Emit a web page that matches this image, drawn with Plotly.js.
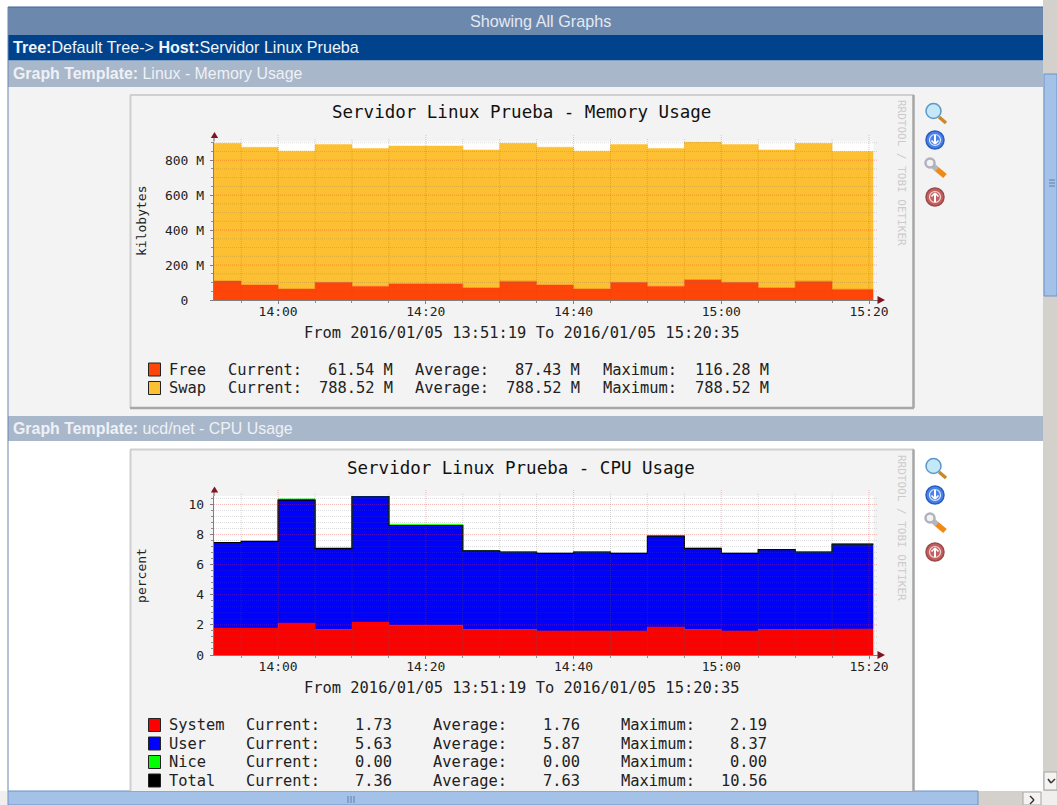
<!DOCTYPE html>
<html>
<head>
<meta charset="utf-8">
<script src="https://cdn.plot.ly/plotly-3.0.1.min.js"></script>
<style>html,body{margin:0;padding:0;background:#fff;overflow:hidden}#g{width:1057px;height:805px}</style>
</head>
<body>
<div id="g"></div>
<script>
// ---- data ----
const stepStarts = ['13:51:19','13:55:00','14:00:00','14:05:00','14:10:00','14:15:00','14:20:00','14:25:00','14:30:00','14:35:00','14:40:00','14:45:00','14:50:00','14:55:00','15:00:00','15:05:00','15:10:00','15:15:00'];
const endTime = '15:20:35';
const memFree = [108.6,85.7,62.9,101,78,93,93,70,108,86,63,101,78,116.28,101,70,108,61.54];
const memSwap = [788.52,788.52,788.52,788.52,788.52,788.52,788.52,788.52,788.52,788.52,788.52,788.52,788.52,788.52,788.52,788.52,788.52,788.52];
const cpuSystem = [1.79,1.79,2.12,1.70,2.19,1.97,1.97,1.70,1.70,1.60,1.60,1.60,1.86,1.70,1.60,1.70,1.70,1.73];
const cpuUser = [5.67,5.75,8.17,5.36,8.37,6.63,6.63,5.22,5.14,5.15,5.24,5.15,6.04,5.38,5.15,5.30,5.14,5.63];
const cpuNice = [0,0,0.08,0.07,0,0.09,0.09,0,0,0,0,0,0,0,0,0,0,0];
const cpuTotal = [7.46,7.54,10.29,7.06,10.56,8.60,8.60,6.92,6.84,6.75,6.84,6.75,7.90,7.08,6.75,7.00,6.84,7.36];
const xMajor = ['14:00:00','14:20:00','14:40:00','15:00:00','15:20:00'];
const xMinor = ['13:55:00','14:05:00','14:10:00','14:15:00','14:25:00','14:30:00','14:35:00','14:45:00','14:50:00','14:55:00','15:05:00','15:10:00','15:15:00'];
const xLabels = ['14:00','14:20','14:40','15:00','15:20'];
const memMajor = [0,200,400,600,800];
const memMinor = [50,100,150,250,300,350,450,500,550,650,700,750,850,900];
const memLabels = ['0\u00a0\u00a0','200 M','400 M','600 M','800 M'];
const cpuMajor = [0,2,4,6,8,10];
const cpuMinor = [0.4,0.8,1.2,1.6,2.4,2.8,3.2,3.6,4.4,4.8,5.2,5.6,6.4,6.8,7.2,7.6,8.4,8.8,9.2,9.6,10.4];
const cpuLabels = ['0','2','4','6','8','10'];
const memLegend = [['Free','61.54 M','87.43 M','116.28 M','#ff4507'],['Swap','788.52 M','788.52 M','788.52 M','#fec033']];
const cpuLegend = [['System','1.73','1.76','2.19','#ff0000'],['User','5.63','5.87','8.37','#0000ff'],['Nice','0.00','0.00','0.00','#00ff00'],['Total','7.36','7.63','10.56','#000000']];
const dateRange = 'From 2016/01/05 13:51:19 To 2016/01/05 15:20:35';

// ---- helpers ----
const W = 1057, H = 805, DAY = '2016-01-05 ';
const px = v => v / W, py = v => 1 - v / H;
const T = t => DAY + t;
const xs = stepStarts.concat(endTime).map(T);
const ext = a => a.concat(a[a.length - 1]);
const MONO = 'DejaVu Sans Mono', SANS = 'Liberation Sans';
const shapes = [], annotations = [];
const rect = (x0, y0, x1, y1, fill, layer, lineC, lw) => shapes.push({type:'rect', xref:'paper', yref:'paper', x0:px(x0), x1:px(x1), y0:py(y0), y1:py(y1), fillcolor:fill, line:{color:lineC||fill, width:lw===undefined?0:lw}, layer:layer||'below'});
const seg = (x0, y0, x1, y1, c, w, layer) => shapes.push({type:'line', xref:'paper', yref:'paper', x0:px(x0), x1:px(x1), y0:py(y0), y1:py(y1), line:{color:c, width:w}, layer:layer||'below'});
const poly = (pts, fill, layer) => shapes.push({type:'path', xref:'paper', yref:'paper', path:'M'+pts.map(p => px(p[0])+','+py(p[1])).join('L')+'Z', fillcolor:fill, line:{width:0}, layer:layer||'above'});
const circ = (cx, cy, r, fill, lc, lw) => shapes.push({type:'circle', xref:'paper', yref:'paper', x0:px(cx-r), x1:px(cx+r), y0:py(cy-r), y1:py(cy+r), fillcolor:fill, line:{color:lc, width:lw}, layer:'below'});
const text = (s, x, y, o) => annotations.push(Object.assign({text:s, x:px(x), y:py(y), xref:'paper', yref:'paper', showarrow:false, xanchor:'left', yanchor:'middle', borderpad:0, font:{family:MONO, size:15.4, color:'#222'}}, o||{}));

// ---- page chrome ----
rect(8, 87, 1043, 416, '#f3f3f3');
rect(8, 442, 1043, 791, '#ffffff');
rect(8, 7, 1043, 35, '#6c88ad');
rect(8, 35, 1043, 60.5, '#00438c');
rect(8, 61, 1043, 87, '#a9b7cb');
rect(8, 416, 1043, 441, '#a9b7cb');
seg(8, 7, 1043, 7, '#3f6496', 1);
seg(8, 7, 8, 791, '#6a86ad', 1);
text('Showing All Graphs', 540.5, 21, {xanchor:'center', font:{family:SANS, size:16.2, color:'#e4e9f1'}});
text('<b>Tree:</b>Default Tree-> <b>Host:</b>Servidor Linux Prueba', 12, 47.5, {font:{family:SANS, size:16.1, color:'#f0f3f8'}});
text('<b>Graph Template:</b> Linux - Memory Usage', 12, 73.5, {font:{family:SANS, size:15.9, color:'#eef1f6'}});
text('<b>Graph Template:</b> ucd/net - CPU Usage', 12, 428.5, {font:{family:SANS, size:15.9, color:'#eef1f6'}});

// scrollbars
rect(1043, 0, 1057, 791, '#d4d1cd');
rect(1044, 74, 1057, 296, '#a4c1e8', 'below', '#6f93c4', 1);
[180, 183, 186].forEach(y => seg(1049, y, 1055, y, '#5f7fae', 1));
rect(1044, 772, 1057, 790, '#f4f3f1', 'below', '#a8a6a2', 1);
seg(1048, 779, 1051, 783, '#333', 1.5); seg(1051, 783, 1055, 779, '#333', 1.5);
rect(0, 791, 1057, 805, '#f0efed');
rect(8, 791, 1023, 805, '#d4d1cd');
rect(8, 791, 978, 805, '#a4c1e8', 'below', '#6f93c4', 1);
[348, 351, 354].forEach(x => seg(x, 796, x, 803, '#5f7fae', 1));
rect(1023, 792, 1041, 805, '#f4f3f1', 'below', '#a8a6a2', 1);
seg(1030, 796, 1034, 800, '#333', 1.5); seg(1034, 800, 1030, 804, '#333', 1.5);

// graph panel
function panel(top, bottom) {
  rect(130, top, 914, bottom, '#f3f3f3');
  seg(130, top, 914, top, '#cfcfcf', 2);
  seg(130.5, top, 130.5, bottom, '#cfcfcf', 2);
  seg(913.5, top, 913.5, bottom, '#a6a6a6', 2.5);
  if (bottom < 791) seg(130, bottom, 914, bottom, '#a6a6a6', 2.5);
}
panel(95, 408);
panel(449.5, 791);

// sidebar icons
function icons(dy) {
  seg(939, 117+dy, 946, 123+dy, '#c8892c', 3.5);
  circ(933.5, 111+dy, 7.5, '#c4e8f8', '#5a98c8', 1.5);
  circ(935, 140+dy, 9, '#4b82ea', '#2b5cc0', 1.5);
  circ(935, 140+dy, 5.5, 'rgba(0,0,0,0)', '#dbe8ff', 1.2);
  seg(935, 135+dy, 935, 144+dy, '#ffffff', 2); seg(931.5, 140.5+dy, 935, 144+dy, '#ffffff', 1.6); seg(938.5, 140.5+dy, 935, 144+dy, '#ffffff', 1.6);
  seg(936, 168.5+dy, 945, 176+dy, '#f08a12', 5.5);
  seg(929, 162+dy, 937, 169.5+dy, '#b4b7c2', 5.5);
  circ(930, 163+dy, 4.5, '#f3f3f3', '#b0b3be', 2.5);
  circ(935, 197+dy, 9, '#c4605f', '#9a4a4a', 1.5);
  circ(935, 197+dy, 5.5, 'rgba(0,0,0,0)', '#f3d9d9', 1.2);
  seg(935, 193+dy, 935, 202+dy, '#ffffff', 2); seg(931.5, 196.5+dy, 935, 193+dy, '#ffffff', 1.6); seg(938.5, 196.5+dy, 935, 193+dy, '#ffffff', 1.6);
}
icons(0);
icons(355);

// ---- chart furniture drawn on the axes ----
const LEFT = 214, RIGHT = 878;
function furniture(xr, yr, majorY, minorY, top, bottom, title, titleY, fromY) {
  const xd = xr === 'x' ? 'x domain' : 'x2 domain', yd = yr === 'y' ? 'y domain' : 'y2 domain';
  shapes.push({type:'rect', xref:xr, yref:yd, x0:T(stepStarts[0]), x1:T(endTime), y0:0, y1:1, fillcolor:'#ffffff', line:{width:0}, layer:'below'});
  const gridV = (vals, c, over) => vals.forEach(t => shapes.push({type:'line', xref:xr, yref:yd, x0:T(t), x1:T(t), y0:0, y1:over, line:{color:c, width:1, dash:'1px,1px'}, layer:'above'}));
  gridV(xMinor, 'rgba(95,95,95,0.26)', 1.02);
  gridV(xMajor, 'rgba(240,40,40,0.32)', 1.04);
  const gridH = (vals, c) => vals.forEach(v => shapes.push({type:'line', xref:xd, yref:yr, x0:0, x1:1, y0:v, y1:v, line:{color:c, width:1, dash:'1px,1px'}, layer:'above'}));
  gridH(minorY, 'rgba(95,95,95,0.22)');
  gridH(majorY.slice(1), 'rgba(240,40,40,0.34)');
  // axis arrows
  seg(214, top, 214, top-5, '#808080', 1.3, 'above');
  poly([[214.5, top-9.5], [210.8, top-3.5], [218.2, top-3.5]], '#7f1420');
  poly([[885, bottom], [877.5, bottom-4], [877.5, bottom+4]], '#7f1420');
  text(title, 521, titleY, {xanchor:'center', font:{family:MONO, size:17.5, color:'#111'}});
  text(dateRange, 521.5, fromY, {xanchor:'center'});
  text('RRDTOOL / TOBI OETIKER', 901.5, titleY+60, {xanchor:'center', textangle:90, font:{family:MONO, size:11, color:'#cbcbcb'}});
}
furniture('x','y',memMajor,memMinor,141.5,300,'Servidor Linux Prueba - Memory Usage',112.5,332.5);
furniture('x2','y2',cpuMajor,cpuMinor,496,655,'Servidor Linux Prueba - CPU Usage',467.5,687.5);

// legends
function legendRow(r, y, cols, rv) {
  rect(148.5, y-6.5, 160.5, y+6.5, r[4], 'below', '#222', 1);
  text(r[0], 167.5, y);
  text('Current:', cols[0], y); text(r[1], rv[0], y, {xanchor:'right'});
  text('Average:', cols[1], y); text(r[2], rv[1], y, {xanchor:'right'});
  text('Maximum:', cols[2], y); text(r[3], rv[2], y, {xanchor:'right'});
}
[369.5, 388].forEach((y,i) => legendRow(memLegend[i], y, [226.5,413.5,601.5], [393.5,581,769.5]));
[725, 743.5, 762, 780.5].forEach((y,i) => legendRow(cpuLegend[i], y, [244.5,432.5,619.5], [393,580.5,768]));

// ---- traces ----
const area = (x, y, yv, c, name, grp) => ({type:'scatter', mode:'lines', x:xs, y:ext(yv), xaxis:x, yaxis:y, name, stackgroup:grp, line:{shape:'hv', color:c, width:0.5}, fillcolor:c, hoverinfo:'skip'});
const traces = [
  area('x','y',memFree,'#ff4507','Free','m'),
  area('x','y',memSwap,'#fec033','Swap','m'),
  area('x2','y2',cpuSystem,'#ff0000','System','c'),
  area('x2','y2',cpuUser,'#0000ff','User','c'),
  area('x2','y2',cpuNice,'#00ff00','Nice','c'),
  {type:'scatter', mode:'lines', x:xs, y:ext(cpuTotal), xaxis:'x2', yaxis:'y2', name:'Total', line:{shape:'hv', color:'#000000', width:1.2}, hoverinfo:'skip'}
];

// ---- axes ----
const xEndPadded = '2016-01-05 15:21:13';
const xAxis = (anchor) => ({
  type:'date', domain:[px(LEFT), px(RIGHT)], range:[T(stepStarts[0]), xEndPadded], anchor,
  tickmode:'array', tickvals:xMajor.map(T), ticktext:xLabels,
  ticks:'outside', ticklen:3, tickcolor:'#808080', tickwidth:1, showgrid:false, zeroline:false,
  showline:true, linecolor:'#808080', linewidth:1.3, layer:'above traces', ticklabelstandoff:-4,
  tickfont:{family:MONO, size:13, color:'#222'},
  minor:{tickmode:'array', tickvals:xMinor.map(T), ticks:'outside', ticklen:2, tickcolor:'#909090', showgrid:false}
});
const yAxis = (anchor, top, bottom, maxV, maj, lab, minr, ttl, so) => ({
  domain:[py(bottom), py(top)], range:[0, maxV], anchor,
  tickmode:'array', tickvals:maj, ticktext:lab,
  ticks:'outside', ticklen:3, tickcolor:'#808080', tickwidth:1, showgrid:false, zeroline:false,
  showline:true, linecolor:'#808080', linewidth:1.3, layer:'above traces', ticklabelstandoff:3,
  tickfont:{family:MONO, size:13, color:'#222'},
  title:{text:ttl, font:{family:MONO, size:13, color:'#222'}, standoff:so},
  minor:{tickmode:'array', tickvals:minr, ticks:'outside', ticklen:2, tickcolor:'#909090', showgrid:false}
});

const layout = {
  width:W, height:H, margin:{l:0,r:0,t:0,b:0,pad:0}, autosize:false,
  paper_bgcolor:'#ffffff', plot_bgcolor:'rgba(0,0,0,0)', showlegend:false, hovermode:false, dragmode:false,
  xaxis:xAxis('y'), yaxis:yAxis('x',141.5,300,907,memMajor,memLabels,memMinor,'kilobytes',15),
  xaxis2:xAxis('y2'), yaxis2:yAxis('x2',496,655,10.56,cpuMajor,cpuLabels,cpuMinor,'percent',39),
  shapes, annotations
};
Plotly.newPlot('g', traces, layout, {displayModeBar:false, staticPlot:true});
</script>
</body>
</html>
